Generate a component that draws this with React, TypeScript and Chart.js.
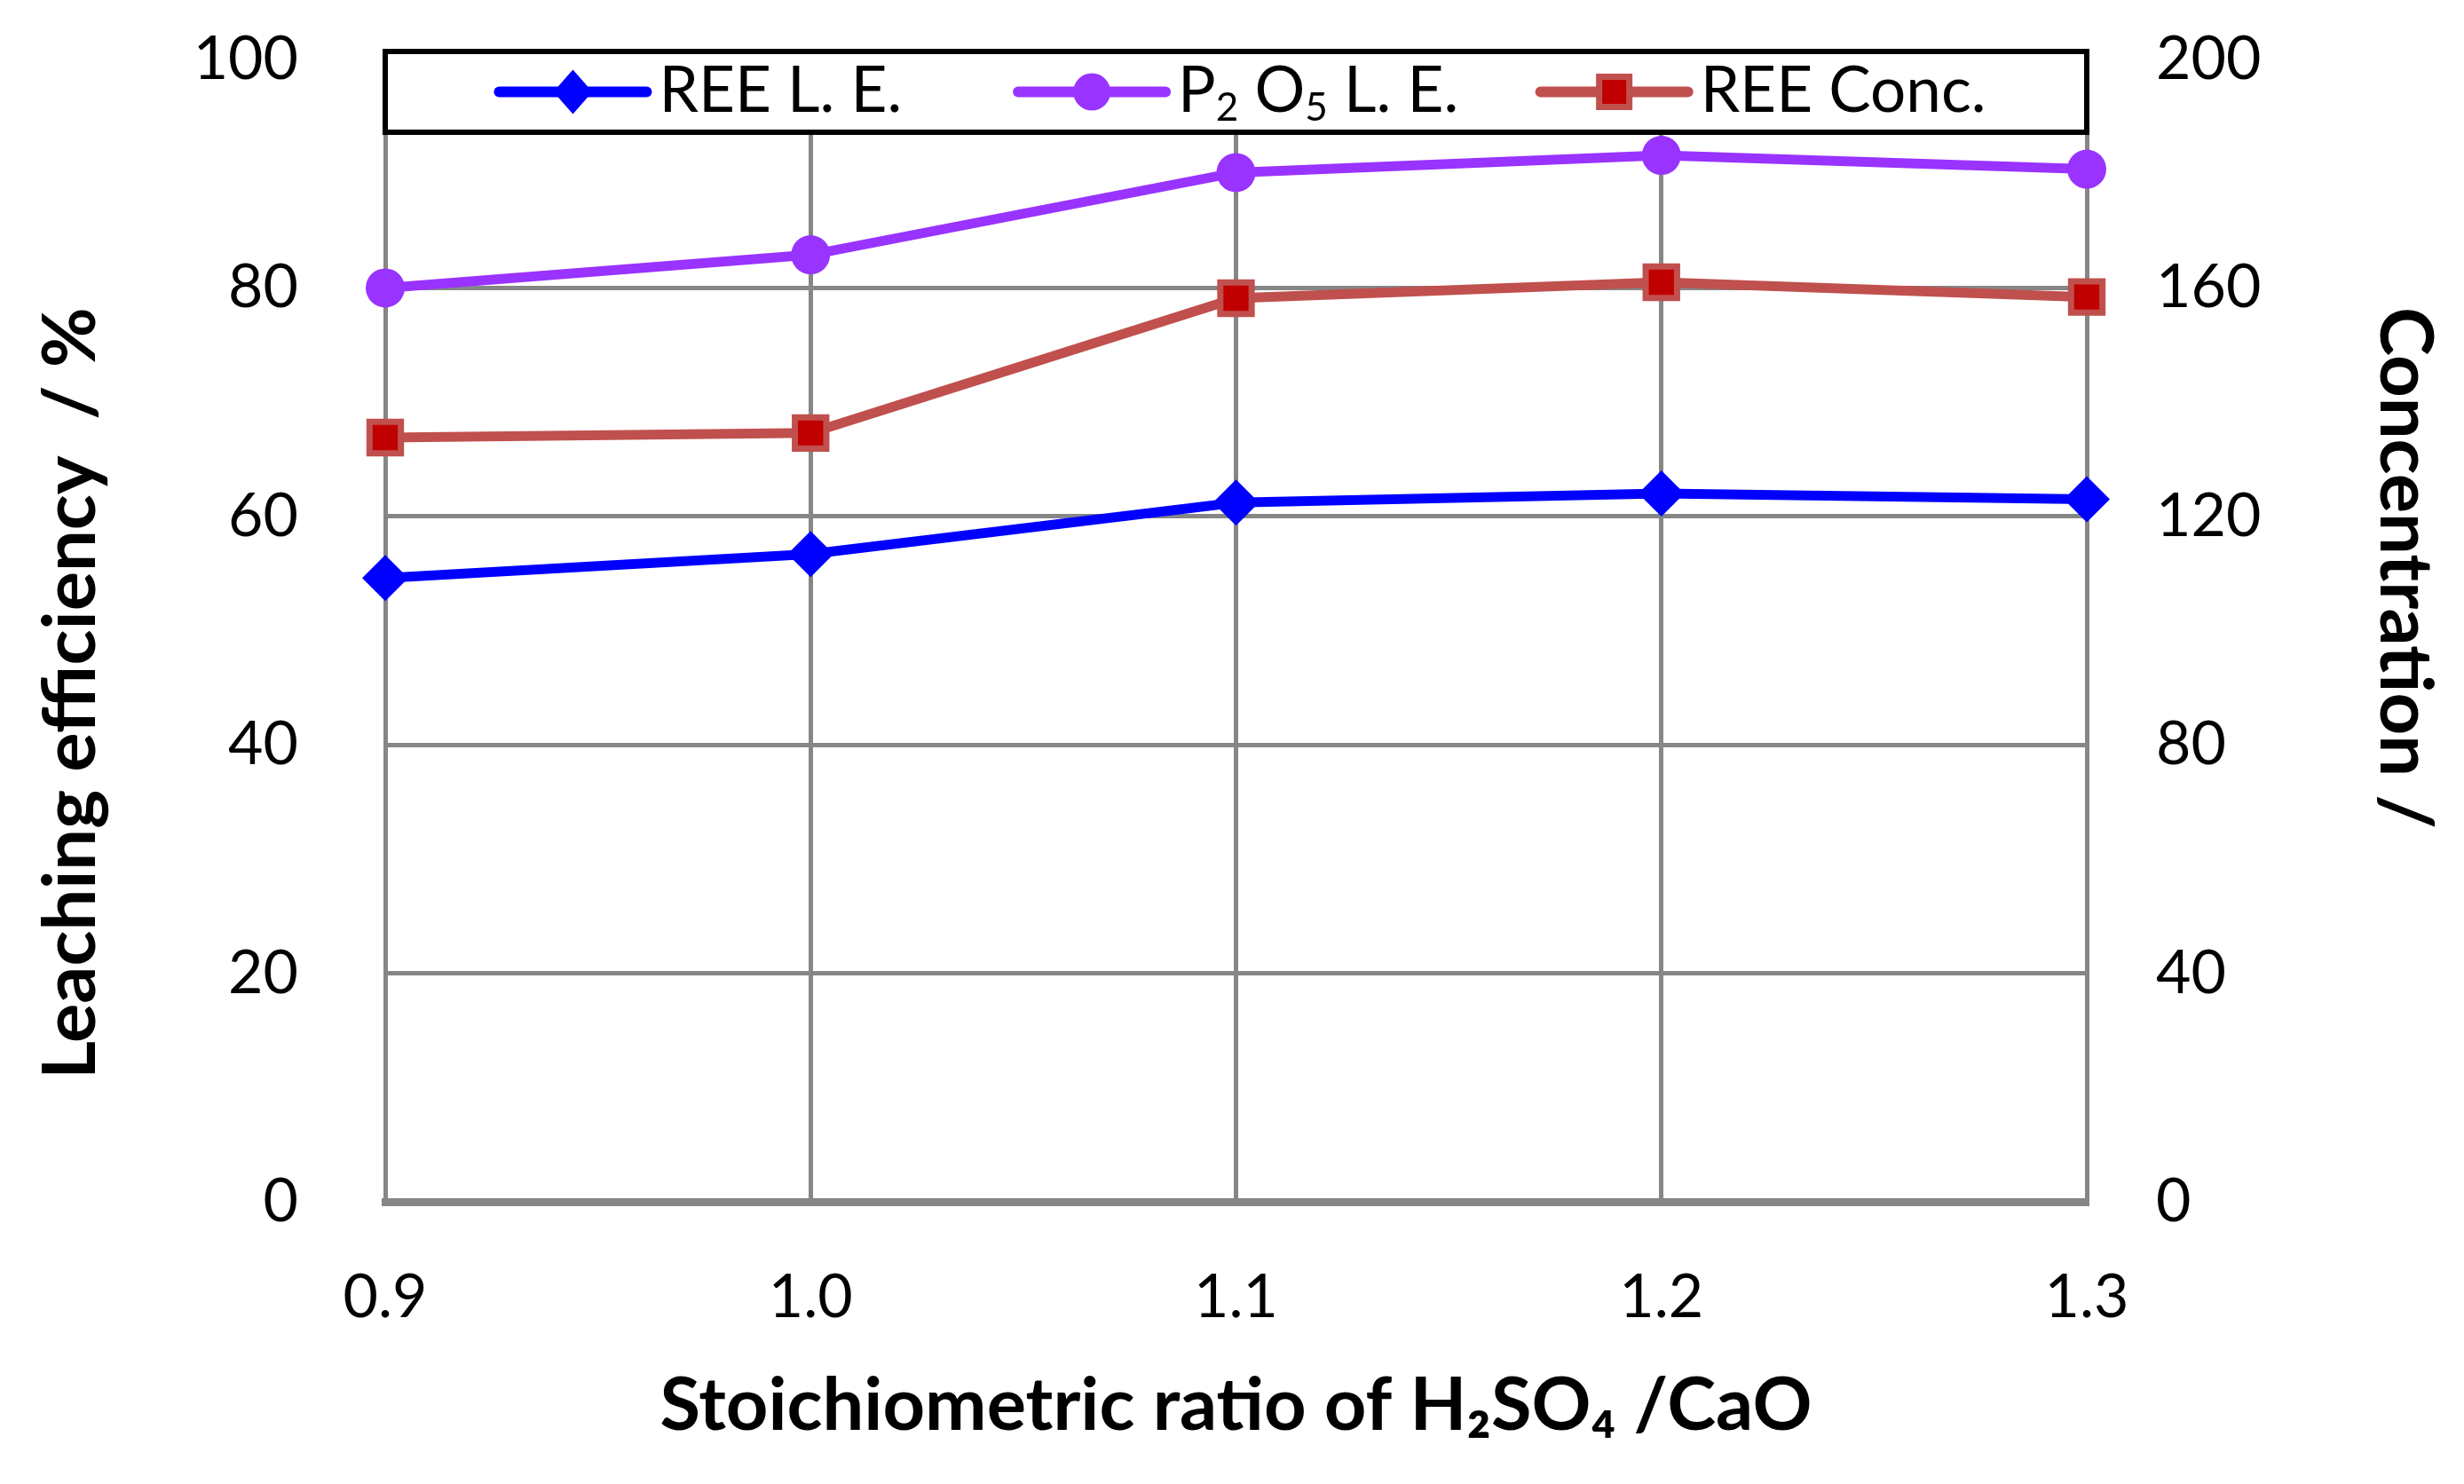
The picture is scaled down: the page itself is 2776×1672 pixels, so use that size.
import { useEffect, useRef } from "react";
import { Chart, registerables } from "chart.js";

Chart.register(...registerables);

// ---- data ----
const ratios = ["0.9", "1.0", "1.1", "1.2", "1.3"];
const reeLE = [54.6, 56.7, 61.2, 62.0, 61.5];
const p2o5LE = [80.0, 82.9, 90.1, 91.6, 90.4];
const reeConc = [133.8, 134.6, 158.2, 161.0, 158.4];

const FONT = "Lato, 'Noto Sans', 'DejaVu Sans', sans-serif";
const GRID = "#868686";
const BLUE = "#0000FF";
const PURPLE = "#9933FF";
const RED_LINE = "#C0504D";
const RED_FILL = "#C00000";

type Part = { t: string; sub?: boolean };

const legendItems: { parts: Part[]; color: string; marker: string; pos: number }[] = [
  { parts: [{ t: "REE L. E." }], color: BLUE, marker: "diamond", pos: 0.067 },
  {
    parts: [{ t: "P" }, { t: "2", sub: true }, { t: " O" }, { t: "5", sub: true }, { t: " L. E." }],
    color: PURPLE,
    marker: "circle",
    pos: 0.372,
  },
  { parts: [{ t: "REE Conc." }], color: RED_LINE, marker: "square", pos: 0.679 },
];

// legend drawn as a framed box on top of the plot area
const boxLegend = {
  id: "boxLegend",
  afterDatasetsDraw(chart: Chart) {
    const { ctx, chartArea } = chart;
    const top = chartArea.top - 9;
    const h = 91;
    const w = chartArea.right - chartArea.left;
    ctx.save();
    ctx.fillStyle = "#fff";
    ctx.fillRect(chartArea.left, top, w, h);
    ctx.lineWidth = 6;
    ctx.strokeStyle = "#000";
    ctx.strokeRect(chartArea.left, top, w, h);
    const cy = top + h / 2;

    legendItems.forEach((item) => {
      const x0 = chartArea.left + item.pos * w;
      const len = 166;
      ctx.strokeStyle = item.color;
      ctx.lineWidth = 12;
      ctx.lineCap = "round";
      ctx.beginPath();
      ctx.moveTo(x0, cy);
      ctx.lineTo(x0 + len, cy);
      ctx.stroke();

      const mx = x0 + len / 2;
      if (item.marker === "diamond") {
        ctx.fillStyle = BLUE;
        ctx.beginPath();
        ctx.moveTo(mx, cy - 25);
        ctx.lineTo(mx + 22, cy);
        ctx.lineTo(mx, cy + 25);
        ctx.lineTo(mx - 22, cy);
        ctx.closePath();
        ctx.fill();
      } else if (item.marker === "circle") {
        ctx.fillStyle = PURPLE;
        ctx.beginPath();
        ctx.arc(mx, cy, 21, 0, Math.PI * 2);
        ctx.fill();
      } else {
        ctx.fillStyle = RED_FILL;
        ctx.strokeStyle = RED_LINE;
        ctx.lineWidth = 7;
        ctx.fillRect(mx - 17, cy - 17, 34, 34);
        ctx.strokeRect(mx - 17, cy - 17, 34, 34);
      }

      let tx = x0 + len + 14;
      ctx.fillStyle = "#000";
      ctx.textBaseline = "middle";
      ctx.textAlign = "left";
      item.parts.forEach((p) => {
        ctx.font = p.sub ? `44px ${FONT}` : `71px ${FONT}`;
        ctx.fillText(p.t, tx, p.sub ? cy + 18 : cy);
        tx += ctx.measureText(p.t).width;
      });
    });
    ctx.restore();
  },
};

export default function App() {
  const chartRef = useRef<HTMLCanvasElement>(null);
  const chartInstance = useRef<Chart | null>(null);

  useEffect(() => {
    if (!chartRef.current) return;
    const ctx = chartRef.current.getContext("2d");
    if (!ctx) return;

    if (chartInstance.current) chartInstance.current.destroy();

    chartInstance.current = new Chart(ctx, {
      type: "line",
      data: {
        labels: ratios,
        datasets: [
          {
            label: "REE L. E.",
            data: reeLE,
            yAxisID: "y",
            borderColor: BLUE,
            backgroundColor: BLUE,
            borderWidth: 11,
            pointStyle: "rectRot",
            pointRadius: 26,
            pointBorderWidth: 0,
            clip: false,
          },
          {
            label: "P2O5 L. E.",
            data: p2o5LE,
            yAxisID: "y",
            borderColor: PURPLE,
            backgroundColor: PURPLE,
            borderWidth: 11,
            pointStyle: "circle",
            pointRadius: 22,
            pointBorderWidth: 0,
            clip: false,
          },
          {
            label: "REE Conc.",
            data: reeConc,
            yAxisID: "y1",
            borderColor: RED_LINE,
            backgroundColor: RED_FILL,
            borderWidth: 11,
            pointStyle: "rect",
            pointRadius: 25,
            pointBorderColor: RED_LINE,
            pointBorderWidth: 7,
            clip: false,
          },
        ],
      },
      options: {
        responsive: true,
        maintainAspectRatio: false,
        animation: false,
        layout: { padding: { top: 67, left: 0, right: 0, bottom: 0 } },
        plugins: {
          legend: { display: false },
          tooltip: { enabled: false },
        },
        scales: {
          x: {
            offset: false,
            afterFit: (s: any) => {
              s.height = 318;
            },
            grid: { color: GRID, lineWidth: 5, drawTicks: false },
            border: { color: GRID, width: 9 },
            ticks: {
              padding: 67,
              color: "#000",
              font: { family: FONT, size: 68 },
              maxRotation: 0,
            },
            title: {
              display: true,
              text: "Stoichiometric ratio of H₂SO₄ /CaO",
              color: "#000",
              font: { family: FONT, size: 83, weight: "bold" },
              padding: { top: 0, bottom: 38 },
            },
          },
          y: {
            position: "left",
            min: 0,
            max: 100,
            afterFit: (s: any) => {
              s.width = 434;
              s.paddingTop = 0;
              s.paddingBottom = 0;
            },
            grid: { color: GRID, lineWidth: 5, drawTicks: false },
            border: { color: GRID, width: 5 },
            ticks: {
              stepSize: 20,
              padding: 98,
              color: "#000",
              font: { family: FONT, size: 68 },
            },
            title: {
              display: true,
              text: "Leaching efficiency  / %       ",
              color: "#000",
              font: { family: FONT, size: 83, weight: "bold" },
              padding: { top: 30, bottom: 0 },
            },
          },
          y1: {
            position: "right",
            min: 0,
            max: 200,
            afterFit: (s: any) => {
              s.width = 425;
              s.paddingTop = 0;
              s.paddingBottom = 0;
            },
            grid: { drawOnChartArea: false, drawTicks: false },
            border: { color: GRID, width: 5 },
            ticks: {
              stepSize: 40,
              padding: 78,
              color: "#000",
              font: { family: FONT, size: 68 },
            },
            title: {
              display: true,
              text: "Concentration /       ",
              color: "#000",
              font: { family: FONT, size: 83, weight: "bold" },
              padding: { top: 17, bottom: 0 },
            },
          },
        },
      },
      plugins: [boxLegend],
    });

    return () => {
      if (chartInstance.current) {
        chartInstance.current.destroy();
        chartInstance.current = null;
      }
    };
  }, []);

  return (
    <div
      style={{
        position: "fixed",
        left: 0,
        top: 0,
        width: 2776,
        height: 1672,
        background: "#fff",
      }}
    >
      <canvas ref={chartRef} />
    </div>
  );
}
